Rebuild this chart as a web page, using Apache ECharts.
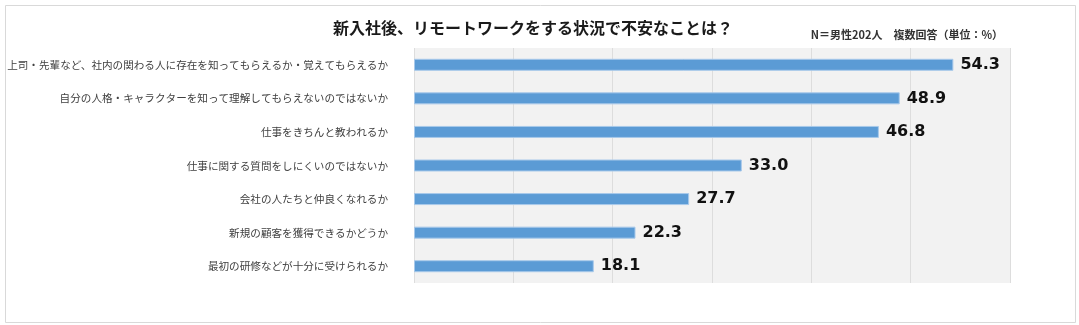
<!DOCTYPE html>
<html>
<head>
<meta charset="utf-8">
<script src="https://cdn.jsdelivr.net/npm/echarts@6/dist/echarts.min.js"></script>
<style>
  html, body { margin: 0; padding: 0; background: #ffffff; }
  #chart { width: 1079px; height: 325px; }
</style>
</head>
<body>
<div id="chart"></div>
<script>
// Survey answers (top to bottom) and their shares in percent
const categories = [
  '上司・先輩など、社内の関わる人に存在を知ってもらえるか・覚えてもらえるか',
  '自分の人格・キャラクターを知って理解してもらえないのではないか',
  '仕事をきちんと教われるか',
  '仕事に関する質問をしにくいのではないか',
  '会社の人たちと仲良くなれるか',
  '新規の顧客を獲得できるかどうか',
  '最初の研修などが十分に受けられるか'
];
const values = [54.3, 48.9, 46.8, 33.0, 27.7, 22.3, 18.1];

const titleText = '新入社後、リモートワークをする状況で不安なことは？';
const noteText = 'N＝男性202人　複数回答（単位：%）';

const jpFont = '"Noto Sans CJK JP", "Noto Sans", sans-serif';

const chart = echarts.init(document.getElementById('chart'), null, { renderer: 'canvas' });

chart.setOption({
  backgroundColor: '#ffffff',
  animation: false,
  graphic: [
    {
      type: 'rect',
      left: 3, top: 3,
      shape: { width: 1070, height: 317 },
      style: { fill: 'none', stroke: '#d9d9d9', lineWidth: 1 },
      silent: true
    },
    {
      type: 'text',
      x: 533, y: 28,
      style: {
        text: titleText,
        font: 'bold 16px ' + jpFont,
        fill: '#1a1a1a',
        align: 'center',
        verticalAlign: 'middle'
      }
    },
    {
      type: 'text',
      x: 1003, y: 35,
      style: {
        text: noteText,
        font: 'bold 11px ' + jpFont,
        fill: '#333333',
        align: 'right',
        verticalAlign: 'middle'
      }
    }
  ],
  grid: {
    left: 414,
    right: 69,
    top: 48,
    bottom: 42,
    show: true,
    backgroundColor: '#f2f2f2',
    borderWidth: 0
  },
  xAxis: {
    type: 'value',
    min: 0,
    max: 60,
    interval: 10,
    axisLabel: { show: false },
    axisLine: { show: false },
    axisTick: { show: false },
    splitLine: { show: true, lineStyle: { color: '#dddddd', width: 1 } }
  },
  yAxis: {
    type: 'category',
    data: categories,
    inverse: true,
    axisLine: { show: false },
    axisTick: { show: false },
    axisLabel: {
      margin: 26,
      fontSize: 10.6,
      fontFamily: jpFont,
      color: '#404040'
    }
  },
  series: [
    {
      type: 'bar',
      data: values,
      barWidth: 12,
      itemStyle: {
        color: '#5b9bd5',
        borderColor: '#a8c9ea',
        borderWidth: 1
      },
      label: {
        show: true,
        position: 'right',
        distance: 7,
        formatter: p => p.value.toFixed(1),
        fontSize: 16,
        fontWeight: 'bold',
        fontFamily: '"DejaVu Sans", Verdana, sans-serif',
        color: '#111111'
      }
    }
  ]
});
</script>
</body>
</html>
